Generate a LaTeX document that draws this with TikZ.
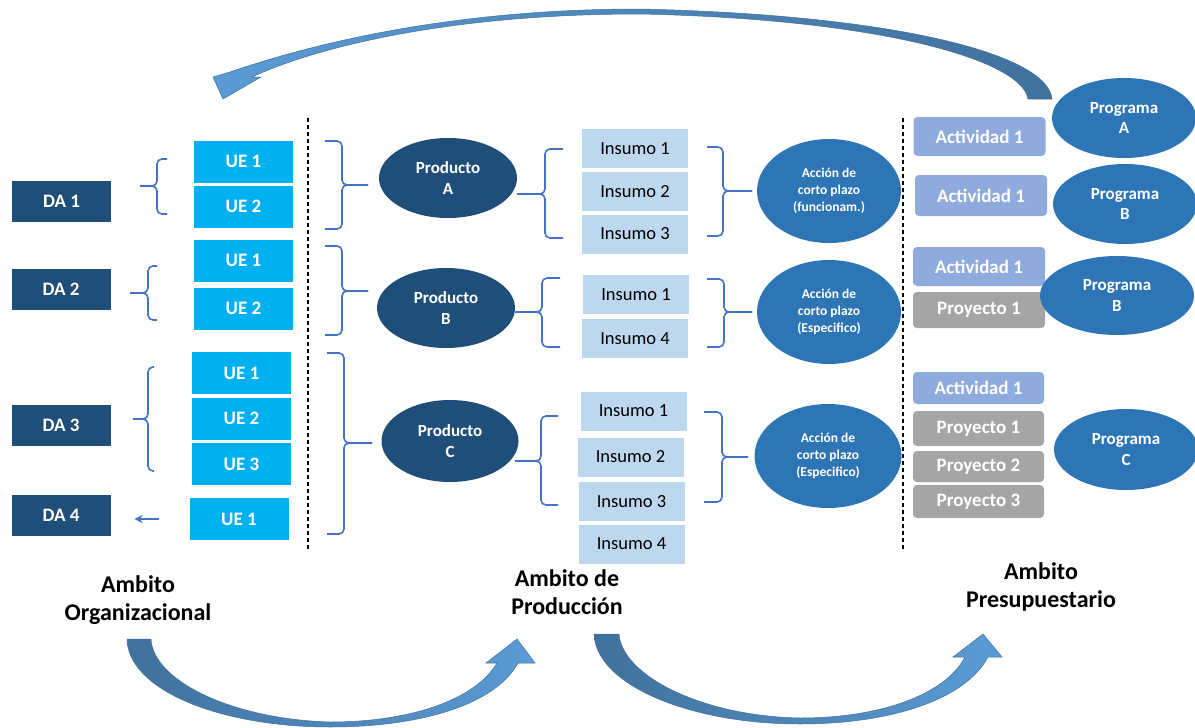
\documentclass[tikz,border=0pt]{standalone}
\usepackage{fontspec}
\setmainfont{Carlito}
\usetikzlibrary{shapes.geometric,arrows.meta}
\definecolor{danavy}{HTML}{1F4E79}
\definecolor{uecyan}{HTML}{00B0F0}
\definecolor{insblue}{HTML}{BDD7EE}
\definecolor{accblue}{HTML}{2E75B6}
\definecolor{actblue}{HTML}{8FAADC}
\definecolor{proygray}{HTML}{A5A5A5}
\definecolor{brblue}{HTML}{4472C4}
\definecolor{arrlight}{HTML}{5B9BD5}
\definecolor{arrdark}{HTML}{41719C}
\newcommand\BrPath[6]{%
  \draw[brc] (#3,#4) -- (#2,#4) -- (#2,#5) -- (#1,#5);
  \draw[brc] (#3,#6) -- (#2,#6) -- (#2,#5) -- (#1,#5);}
\begin{document}
\begin{tikzpicture}[x=1pt,y=-1pt,
  every node/.style={inner sep=0pt,outer sep=0pt},
  dabox/.style={fill=danavy,text=white,minimum width=99pt,minimum height=41pt,font=\fontsize{19}{22}\selectfont\bfseries},
  uebox/.style={fill=uecyan,text=white,minimum width=99pt,minimum height=42pt,font=\fontsize{19}{22}\selectfont\bfseries},
  insbox/.style={fill=insblue,text=black,minimum width=106pt,minimum height=39pt,font=\fontsize{18.5}{22}\selectfont},
  prodell/.style={ellipse,fill=danavy,text=white,minimum width=138pt,minimum height=80pt,align=center,font=\fontsize{17}{21}\selectfont\bfseries},
  accell/.style={ellipse,fill=accblue,text=white,minimum width=144pt,minimum height=104pt,align=center,font=\fontsize{13.5}{17}\selectfont\bfseries},
  progell/.style={ellipse,fill=accblue,text=white,minimum width=144pt,minimum height=80pt,align=center,font=\fontsize{17}{20.5}\selectfont\bfseries},
  actbox/.style={rounded corners=4pt,fill=actblue,text=white,minimum width=132pt,font=\fontsize{19}{22}\selectfont\bfseries},
  proybox/.style={rounded corners=4pt,fill=proygray,text=white,minimum width=132pt,font=\fontsize{19}{22}\selectfont\bfseries},
  ambito/.style={align=center,text=black,font=\fontsize{24}{28}\selectfont\bfseries},
  brc/.style={draw=brblue,line width=1.6pt,rounded corners=5pt},
  sepline/.style={draw=black,line width=1.2pt,dash pattern=on 4pt off 3pt},
  bigarr/.style={draw=arrdark,line width=0.5pt}
]
\useasboundingbox (0,0) rectangle (1195,728);
\fill[white] (0,0) rectangle (1195,728);

% ---- Organizational scope
\node[dabox] (da1) at (61.5,201.5) {DA 1};
\node[dabox] (da2) at (61,289) {DA 2};
\node[dabox] (da3) at (61,425) {DA 3};
\node[dabox] (da4) at (61,515.5) {DA 4};

\node[uebox] (u1) at (243.5,161.5) {UE 1};
\node[uebox] (u2) at (243.5,206.5) {UE 2};
\node[uebox] (u3) at (243.5,260.5) {UE 1};
\node[uebox] (u4) at (243.5,308.5) {UE 2};
\node[uebox] (u5) at (241.5,373) {UE 1};
\node[uebox] (u6) at (241.5,418.5) {UE 2};
\node[uebox] (u7) at (241.5,464) {UE 3};
\node[uebox] (u8) at (239,519) {UE 1};

\BrPath{140}{157}{167}{159}{186}{214}
\BrPath{130}{148}{157}{266}{293}{320}
\BrPath{133}{148}{154}{367}{419}{471}
\draw[draw=brblue,line width=1.6pt,-{Stealth[length=8pt,width=8pt]}]
  ([xshift=-31pt]u8.west) -- ([xshift=24pt]da4.east |- u8.west);

\draw[sepline] (308,118) -- (308,550);

% ---- Production scope
\BrPath{368}{342}{325}{141}{185}{229}
\BrPath{368}{342}{325}{246}{291}{335}
\BrPath{372}{344}{327}{353}{443}{534}

\node[prodell] (pa) at (448,178) {Producto\\A};
\node[prodell] (pb) at (446,308) {Producto\\B};
\node[prodell,minimum width=137pt,minimum height=82pt] (pc) at (450,441) {Producto\\C};

\BrPath{517}{545}{563}{149}{194}{238}
\BrPath{515}{542}{560}{278}{312}{347}
\BrPath{515}{541}{558}{416}{461}{505}

\node[insbox] (ia1) at (635,148.5) {Insumo 1};
\node[insbox] (ia2) at (635,191.5) {Insumo 2};
\node[insbox] (ia3) at (635,234) {Insumo 3};
\node[insbox] (ib1) at (636,294.5) {Insumo 1};
\node[insbox] (ib4) at (635,338.5) {Insumo 4};
\node[insbox] (ic1) at (633.5,411) {Insumo 1};
\node[insbox] (ic2) at (630.5,457) {Insumo 2};
\node[insbox] (ic3) at (631.5,501.5) {Insumo 3};
\node[insbox] (ic4) at (631.5,544) {Insumo 4};

\BrPath{752}{723}{707}{147}{191}{236}
\BrPath{752}{724}{707}{279}{312}{347}
\BrPath{748}{722}{704}{412}{457}{502}

\node[accell] (ac1) at (829,191) {Acción de\\corto plazo\\(funcionam.)};
\node[accell] (ac2) at (829,312) {Acción de\\corto plazo\\(Especifico)};
\node[accell,minimum width=147pt] (ac3) at (828,456) {Acción de\\corto plazo\\(Especifico)};

\draw[sepline] (903,118) -- (903,551);

% ---- Budget scope
\node[actbox,minimum height=39pt] (ac1a) at (979.5,136.5) {Actividad 1};
\node[actbox,minimum height=41pt] (ac2a) at (981,195.5) {Actividad 1};
\node[actbox,minimum height=39pt] (ac3a) at (979,266.5) {Actividad 1};
\node[proybox,minimum height=36pt] (pr3a) at (979,310) {Proyecto 1};
\node[actbox,minimum height=32pt,minimum width=131pt] (ac4a) at (978.5,388) {Actividad 1};
\node[proybox,minimum height=35pt,minimum width=131pt] (pr4a) at (978.5,428.5) {Proyecto 1};
\node[proybox,minimum height=31pt,minimum width=131pt] (pr4b) at (978.5,466.5) {Proyecto 2};
\node[proybox,minimum height=33pt,minimum width=131pt] (pr4c) at (978.5,501.5) {Proyecto 3};

\node[progell] (pga) at (1124,118) {Programa\\A};
\node[progell] (pgb) at (1125,204) {Programa\\B};
\node[progell,minimum width=154pt,minimum height=79pt] (pgb2) at (1117,295.5) {Programa\\B};
\node[progell,minimum height=81pt] (pgc) at (1126,449.5) {Programa\\C};

% ---- Scope labels
\node[ambito] (amo) at (138,600) {Ambito\\Organizacional};
\node[ambito] (amp) at (567,592) {Ambito de\\Producción};
\node[ambito] (amb) at (1041,587) {Ambito\\Presupuestario};

% ---- Big curved arrows
\shadedraw[bigarr,left color=arrlight,right color=arrdark]
  (1052,99) .. controls (1048,55) and (900,15) .. (640,9)
  .. controls (440,9) and (300,48) .. (230,72)
  -- (213,77) -- (223,99) -- (261,77) -- (252,77)
  .. controls (310,50) and (440,14) .. (640,14)
  .. controls (880,19) and (1022,60) .. (1028,99) -- cycle;

\shadedraw[bigarr,left color=arrdark,right color=arrlight]
  (127,639) .. controls (128,690) and (220,727) .. (330,727)
  .. controls (420,727) and (495,705) .. (518,663)
  -- (535,663) -- (517,639) -- (486,663) -- (497,663)
  .. controls (475,700) and (410,722) .. (330,722)
  .. controls (230,719) and (153,680) .. (151,639) -- cycle;

\shadedraw[bigarr,left color=arrdark,right color=arrlight]
  (594,634) .. controls (596,685) and (690,724) .. (800,724)
  .. controls (890,724) and (965,700) .. (988,657)
  -- (1002,657) -- (983,634) -- (953,657) -- (965,657)
  .. controls (945,695) and (880,718) .. (800,718)
  .. controls (700,716) and (622,675) .. (619,634) -- cycle;
\end{tikzpicture}
\end{document}
